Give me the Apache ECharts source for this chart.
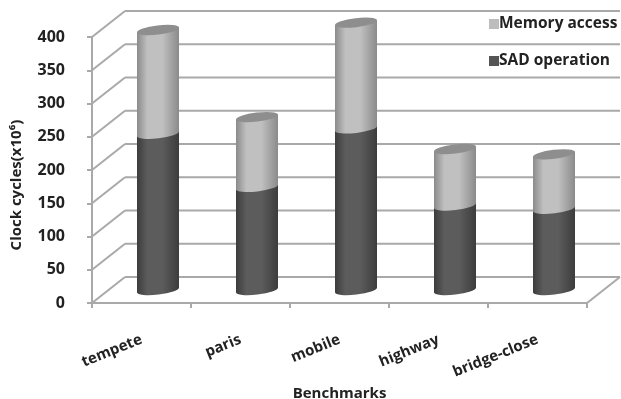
<!DOCTYPE html>
<html>
<head>
<meta charset="utf-8">
<script src="https://cdn.jsdelivr.net/npm/echarts@6/dist/echarts.min.js"></script>
<style>
  html, body { margin: 0; padding: 0; background: #fff; }
  #chart { width: 621px; height: 399px; }
</style>
</head>
<body>
<div id="chart"></div>
<script>
const categories = ['tempete', 'paris', 'mobile', 'highway', 'bridge-close']
const sadOperation = [235, 155, 243, 127, 122]
const memoryAccess = [156, 105, 159, 85, 82]
const yTicks = [0, 50, 100, 150, 200, 250, 300, 350, 400]

const GRID_COLOR = '#a9a9a9'
const TEXT_COLOR = '#222'
const FONT = '"Open Sans", sans-serif'
const DEPTH_X = 33
const DEPTH_Y = 26
const CYL_RX = 21
const CYL_RY = 4.5
const CYL_TILT = 2.5

const sideGradient = (edge, mid) => ({
  type: 'linear', x: 0, y: 0, x2: 1, y2: 0,
  colorStops: [
    { offset: 0, color: edge },
    { offset: 0.25, color: mid },
    { offset: 0.6, color: mid },
    { offset: 1, color: edge },
  ],
})

// back wall lines and the slanted lines joining them to the value axis
function renderWall(params, api) {
  const rect = params.coordSys
  const y = api.coord([0, api.value(1)])[1]
  const style = { stroke: GRID_COLOR, lineWidth: 2, fill: null }
  const left = rect.x
  const right = rect.x + rect.width
  const children = [
    { type: 'line', shape: { x1: left, y1: y, x2: left + DEPTH_X, y2: y - DEPTH_Y }, style },
    { type: 'line', shape: { x1: left + DEPTH_X, y1: y - DEPTH_Y, x2: right + DEPTH_X, y2: y - DEPTH_Y }, style },
  ]
  if (params.dataIndex === 0) {
    children.push({ type: 'line', shape: { x1: right, y1: y, x2: right + DEPTH_X, y2: y - DEPTH_Y }, style })
  }
  return { type: 'group', children }
}

function cylinderRenderer(edge, mid, isTop) {
  return (params, api) => {
    const i = api.value(0)
    const bottom = api.coord([i, api.value(1)])
    const top = api.coord([i, api.value(2)])
    const cx = bottom[0] + DEPTH_X / 2
    const yb = bottom[1] - DEPTH_Y / 2
    const yt = top[1] - DEPTH_Y / 2
    const angle = Math.atan2(-CYL_TILT, CYL_RX) * 180 / Math.PI
    const xl = cx - CYL_RX
    const xr = cx + CYL_RX
    const pathData = `M ${xl} ${yt + CYL_TILT} L ${xl} ${yb + CYL_TILT} ` +
      `A ${CYL_RX} ${CYL_RY} ${angle} 0 0 ${xr} ${yb - CYL_TILT} ` +
      `L ${xr} ${yt - CYL_TILT} Z`
    const children = [{
      type: 'path',
      shape: { pathData },
      style: { fill: sideGradient(edge, mid) },
    }]
    if (isTop) {
      children.push({
        type: 'path',
        shape: {
          pathData: `M ${xl} ${yt + CYL_TILT} A ${CYL_RX} ${CYL_RY} ${angle} 1 1 ${xr} ${yt - CYL_TILT} ` +
            `A ${CYL_RX} ${CYL_RY} ${angle} 1 1 ${xl} ${yt + CYL_TILT} Z`,
        },
        style: { fill: '#8e8e8e' },
      })
    }
    return { type: 'group', children }
  }
}

const sadData = sadOperation.map((v, i) => [i, 0, v])
const memoryData = memoryAccess.map((v, i) => [i, sadOperation[i], sadOperation[i] + v])

const chart = echarts.init(document.getElementById('chart'))
chart.setOption({
  animation: false,
  backgroundColor: '#fff',
  grid: { left: 92, top: 37, width: 495, height: 266, outerBoundsMode: 'none' },
  legend: {
    data: ['Memory access', 'SAD operation'],
    orient: 'vertical',
    left: 484,
    top: 11,
    icon: 'rect',
    itemWidth: 10,
    itemHeight: 10,
    itemGap: 21,
    selectedMode: false,
    textStyle: { color: TEXT_COLOR, fontFamily: FONT, fontWeight: 'bold', fontSize: 15.5, padding: [6, 0, 0, -5] },
  },
  xAxis: {
    type: 'category',
    data: categories,
    name: 'Benchmarks',
    nameLocation: 'middle',
    nameGap: 80,
    nameTextStyle: { color: TEXT_COLOR, fontFamily: FONT, fontWeight: 'bold', fontSize: 15 },
    axisLine: { lineStyle: { color: GRID_COLOR, width: 2 } },
    axisTick: { show: true, length: 5, alignWithLabel: false, lineStyle: { color: GRID_COLOR, width: 2 } },
    axisLabel: { rotate: 22, margin: 36, color: TEXT_COLOR, fontFamily: FONT, fontWeight: 'bold', fontSize: 15, interval: 0 },
  },
  yAxis: {
    type: 'value',
    min: 0,
    max: 400,
    interval: 50,
    name: 'Clock cycles(x10⁶)',
    nameLocation: 'middle',
    nameGap: 68,
    nameTextStyle: { color: TEXT_COLOR, fontFamily: FONT, fontWeight: 'bold', fontSize: 15, padding: [0, 30, 0, 0] },
    splitLine: { show: false },
    axisLine: { show: true, lineStyle: { color: GRID_COLOR, width: 2 } },
    axisTick: { show: true, length: 5, lineStyle: { color: GRID_COLOR, width: 2 } },
    axisLabel: { margin: 27, color: TEXT_COLOR, fontFamily: FONT, fontWeight: 'bold', fontSize: 16 },
  },
  series: [
    {
      name: 'wall',
      type: 'custom',
      silent: true,
      z: 1,
      data: yTicks.map((v) => [0, v]),
      encode: { x: 0, y: 1 },
      renderItem: renderWall,
    },
    {
      name: 'SAD operation',
      type: 'custom',
      silent: true,
      z: 2,
      itemStyle: { color: '#555555' },
      data: sadData,
      encode: { x: 0, y: [1, 2] },
      renderItem: cylinderRenderer('#3c3c3c', '#5c5c5c', false),
    },
    {
      name: 'Memory access',
      type: 'custom',
      silent: true,
      z: 3,
      itemStyle: { color: '#bdbdbd' },
      data: memoryData,
      encode: { x: 0, y: [1, 2] },
      renderItem: cylinderRenderer('#8a8a8a', '#c0c0c0', true),
    },
  ],
})
</script>
</body>
</html>
